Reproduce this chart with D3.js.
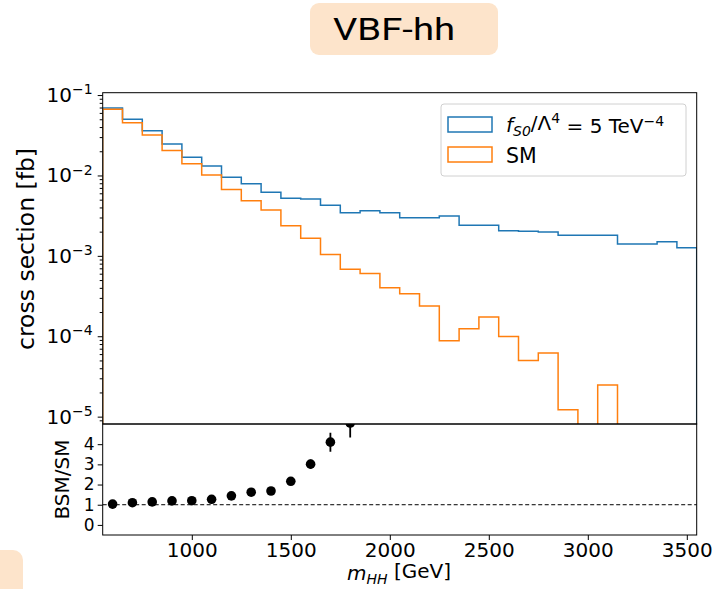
<!DOCTYPE html>
<html>
<head>
<meta charset="utf-8">
<script src="https://cdn.jsdelivr.net/npm/d3@7"></script>
<style>
  body { margin: 0; background: #fff; }
  svg { display: block; font-family: "DejaVu Sans", sans-serif; }
  .axis path, .axis line { stroke: #000; stroke-width: 1; }
  .axis text { font-size: 20px; fill: #000; font-family: "DejaVu Sans", sans-serif; }
  .axis.ratio text { font-size: 17px; }
</style>
</head>
<body>
<svg id="chart" width="716" height="589"></svg>
<script>
// bin edges of m_HH [GeV]
const binEdges = [550, 650, 750, 850, 950, 1050, 1150, 1250, 1350, 1450, 1550, 1650, 1750, 1850,
  1950, 2050, 2150, 2250, 2350, 2450, 2550, 2650, 2750, 2850, 2950, 3050, 3150, 3250, 3350, 3450, 3550];

// cross section per bin [fb]
const bsmValues = [0.069, 0.050, 0.036, 0.0246, 0.0169, 0.0131, 0.0095, 0.0079, 0.0062, 0.0052,
  0.0051, 0.00425, 0.00344, 0.00365, 0.00344, 0.00298, 0.00298, 0.00313, 0.00241, 0.00241,
  0.00205, 0.00203, 0.00198, 0.00181, 0.00181, 0.0018, 0.0014, 0.0014, 0.0015, 0.00126];
const smValues = [0.0664, 0.0453, 0.0319, 0.0205, 0.014, 0.0101, 0.0067, 0.00484, 0.00372, 0.00237,
  0.00165, 0.00104, 0.00068, 0.000605, 0.0004, 0.000338, 0.000238, 0.000088, 0.000124, 0.000173,
  0.000099, 0.000050, 0.000062, 0.0000122, 0, 0.0000247, 0, 0, 0, 0];

// ratio panel (bin centres)
const ratioX = [600, 700, 800, 900, 1000, 1100, 1200, 1300, 1400, 1500, 1600, 1700, 1800];
const ratioValues = [1.03, 1.10, 1.14, 1.19, 1.20, 1.27, 1.44, 1.62, 1.68, 2.16, 3.01, 4.10, 5.05];
const ratioErrors = [0.02, 0.02, 0.03, 0.03, 0.04, 0.05, 0.06, 0.07, 0.08, 0.12, 0.23, 0.47, 0.72];

const xTicks = [1000, 1500, 2000, 2500, 3000, 3500];
const yTopTicks = [1e-5, 1e-4, 1e-3, 1e-2, 1e-1];
const yBottomTicks = [0, 1, 2, 3, 4];

const blue = "#1f77b4", orange = "#ff7f0e";
const pane = { left: 102.7, right: 696.7, top: 92.7, mid: 424, bottom: 535 };

const svg = d3.select("#chart");

// title box
svg.append("rect").attr("x", 310).attr("y", 3).attr("width", 188).attr("height", 52)
  .attr("rx", 9).attr("fill", "#fde4cb");
svg.append("text").attr("x", 333).attr("y", 39.5)
  .style("font-family", "Roboto, sans-serif").style("font-size", "32px")
  .attr("textLength", 122).attr("lengthAdjust", "spacingAndGlyphs").text("VBF-hh");
// corner box bottom-left
svg.append("rect").attr("x", -20).attr("y", 550).attr("width", 43).attr("height", 60)
  .attr("rx", 10).attr("fill", "#fde4cb");

const x = d3.scaleLinear().domain([550, 3550]).range([pane.left, pane.right]);
const y = d3.scaleLog().domain([8.1e-6, 0.107]).range([pane.mid, pane.top]);
const yr = d3.scaleLinear().domain([-0.5, 5]).range([pane.bottom, pane.mid]);

svg.append("clipPath").attr("id", "clipTop").append("rect")
  .attr("x", pane.left).attr("y", pane.top).attr("width", pane.right - pane.left).attr("height", pane.mid - pane.top);
svg.append("clipPath").attr("id", "clipBot").append("rect")
  .attr("x", pane.left).attr("y", pane.mid).attr("width", pane.right - pane.left).attr("height", pane.bottom - pane.mid);

// histogram outlines
function stepPath(vals) {
  const base = pane.mid + 20;
  const pts = [[x(binEdges[0]), base]];
  vals.forEach((v, i) => {
    const yy = v > 0 ? y(v) : base;
    pts.push([x(binEdges[i]), yy]);
    pts.push([x(binEdges[i + 1]), yy]);
  });
  pts.push([x(binEdges[binEdges.length - 1]), base]);
  return d3.line()(pts);
}

const gTop = svg.append("g").attr("clip-path", "url(#clipTop)");
gTop.append("path").attr("d", stepPath(bsmValues)).attr("fill", "none")
  .attr("stroke", blue).attr("stroke-width", 1.5);
gTop.append("path").attr("d", stepPath(smValues)).attr("fill", "none")
  .attr("stroke", orange).attr("stroke-width", 1.5);

// upper y axis with log ticks
const minor = y.ticks().filter(t => yTopTicks.indexOf(t) < 0);
svg.append("g").attr("class", "axis").attr("transform", `translate(${pane.left},0)`)
  .call(d3.axisLeft(y).tickValues(minor).tickSize(3).tickFormat(""))
  .call(g => g.select(".domain").remove());
const yAxTop = svg.append("g").attr("class", "axis").attr("transform", `translate(${pane.left},0)`)
  .call(d3.axisLeft(y).tickValues(yTopTicks).tickSize(5).tickFormat(""));
yAxTop.select(".domain").remove();
yAxTop.selectAll(".tick text").remove();
yAxTop.selectAll(".tick").append("text")
  .attr("x", -10).attr("dy", "0.32em").attr("text-anchor", "end")
  .each(function (d) {
    const t = d3.select(this);
    t.append("tspan").text("10");
    t.append("tspan").attr("dy", "-0.55em").style("font-size", "14px")
      .text("\u2212" + Math.round(-Math.log10(d)));
  });

// ratio panel
svg.append("line").attr("x1", pane.left).attr("x2", pane.right).attr("y1", yr(1)).attr("y2", yr(1))
  .attr("stroke", "#000").attr("stroke-width", 1).attr("stroke-dasharray", "4,2.5");
const gBot = svg.append("g").attr("clip-path", "url(#clipBot)");
gBot.selectAll(".err").data(ratioValues).join("line")
  .attr("x1", (d, i) => x(ratioX[i])).attr("x2", (d, i) => x(ratioX[i]))
  .attr("y1", (d, i) => yr(d - ratioErrors[i])).attr("y2", (d, i) => yr(d + ratioErrors[i]))
  .attr("stroke", "#000").attr("stroke-width", 1.8);
gBot.selectAll(".pt").data(ratioValues).join("circle")
  .attr("cx", (d, i) => x(ratioX[i])).attr("cy", d => yr(d)).attr("r", 4.8).attr("fill", "#000");

svg.append("g").attr("class", "axis ratio").attr("transform", `translate(${pane.left},0)`)
  .call(d3.axisLeft(yr).tickValues(yBottomTicks).tickSize(5).tickPadding(3).tickFormat(d3.format("d")))
  .call(g => g.select(".domain").remove());

svg.append("g").attr("class", "axis").attr("transform", `translate(0,${pane.bottom})`)
  .call(d3.axisBottom(x).tickValues(xTicks).tickSize(5).tickPadding(3).tickFormat(d3.format("d")))
  .call(g => g.select(".domain").remove());

// panel frames
svg.append("rect").attr("x", pane.left).attr("y", pane.top).attr("width", pane.right - pane.left)
  .attr("height", pane.mid - pane.top).attr("fill", "none").attr("stroke", "#000").attr("stroke-width", 1);
svg.append("rect").attr("x", pane.left).attr("y", pane.mid).attr("width", pane.right - pane.left)
  .attr("height", pane.bottom - pane.mid).attr("fill", "none").attr("stroke", "#000").attr("stroke-width", 1);

// axis labels
svg.append("text").attr("transform", `translate(34,249) rotate(-90)`)
  .attr("text-anchor", "middle").style("font-size", "23.5px").text("cross section [fb]");
svg.append("text").attr("transform", `translate(69,${(pane.mid + pane.bottom) / 2}) rotate(-90)`)
  .attr("text-anchor", "middle").style("font-size", "20px").text("BSM/SM");
const xl = svg.append("text").attr("x", 399).attr("y", 580).attr("text-anchor", "middle")
  .style("font-size", "20px");
xl.append("tspan").style("font-style", "italic").text("m");
xl.append("tspan").attr("dy", "0.3em").style("font-style", "italic").style("font-size", "14px").text("HH");
xl.append("tspan").attr("dy", "-0.3em").text(" [GeV]");

// legend
const lg = svg.append("g");
lg.append("rect").attr("x", 441).attr("y", 104).attr("width", 245).attr("height", 72)
  .attr("rx", 3).attr("fill", "#fff").attr("fill-opacity", 0.8).attr("stroke", "#d0d0d0");
const entries = [{ c: blue, y: 117 }, { c: orange, y: 147 }];
lg.selectAll(".h").data(entries).join("rect")
  .attr("x", 448).attr("y", d => d.y).attr("width", 44).attr("height", 15)
  .attr("fill", "none").attr("stroke", d => d.c).attr("stroke-width", 1.5);
const t1 = lg.append("text").attr("x", 506).attr("y", 132).style("font-size", "20px");
t1.append("tspan").style("font-style", "italic").text("f");
t1.append("tspan").attr("dy", "0.3em").style("font-style", "italic").style("font-size", "14px").text("S0");
t1.append("tspan").attr("dy", "-0.3em").text("/\u039b");
t1.append("tspan").attr("dy", "-0.5em").style("font-size", "14px").text("4");
t1.append("tspan").attr("dy", "0.5em").text(" = 5 TeV");
t1.append("tspan").attr("dy", "-0.5em").style("font-size", "14px").text("\u22124");
lg.append("text").attr("x", 506).attr("y", 163).style("font-size", "20.5px").text("SM");
</script>
</body>
</html>
